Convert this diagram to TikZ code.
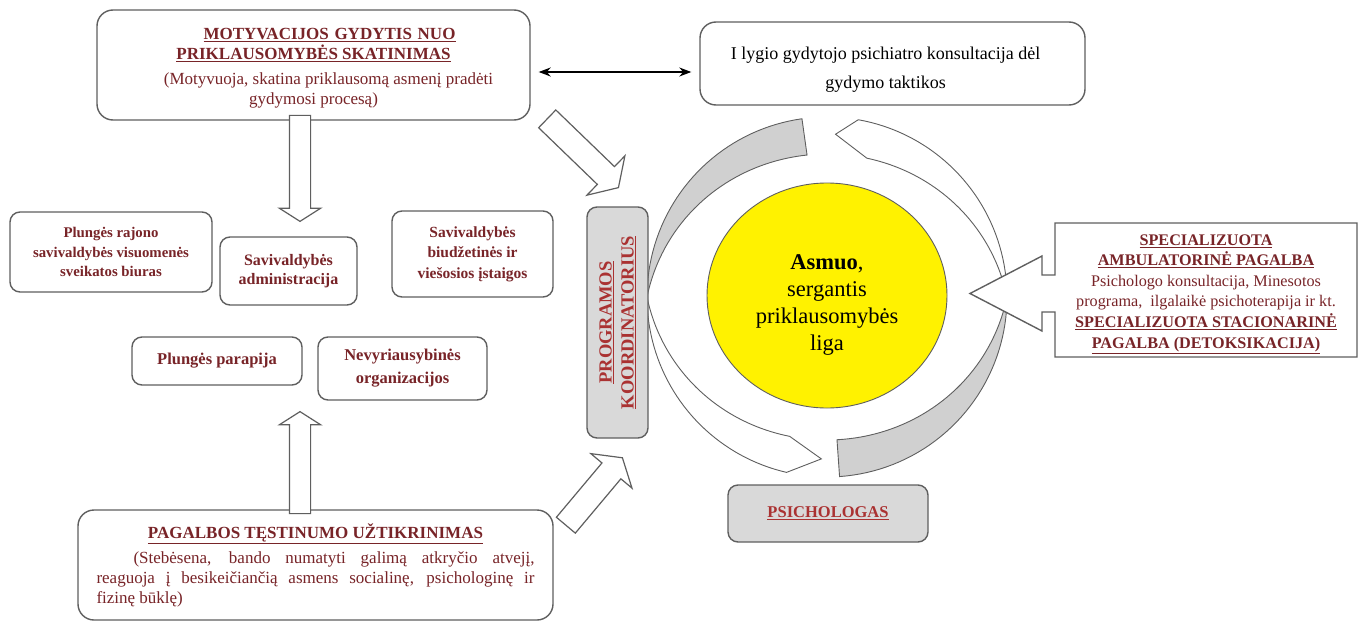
\documentclass[tikz,border=0pt]{standalone}
\usepackage{fontspec}
\setmainfont{Liberation Serif}
\usetikzlibrary{shapes.geometric,shapes.arrows,arrows.meta}

\definecolor{wine}{RGB}{120,36,40}
\definecolor{brick}{RGB}{170,50,50}
\definecolor{edge}{RGB}{95,95,95}
\definecolor{shade}{RGB}{208,208,208}
\definecolor{boxgray}{RGB}{217,217,217}

\newcommand{\fs}[2]{\fontsize{#1}{#2}\selectfont}

\tikzset{
  rbox/.style={draw=edge, line width=1.4pt, rounded corners=16pt, fill=white, align=center, text=wine, inner sep=0pt},
  sbox/.style={rbox, rounded corners=10pt},
  graybox/.style={sbox, fill=boxgray, text=brick},
  txt/.style={align=center, text=wine, inner sep=0pt},
  fatarrow/.style={single arrow, draw=edge, line width=1.2pt, fill=white, single arrow head extend=10pt,
    single arrow tip angle=115, inner xsep=0pt, inner ysep=10pt, minimum width=0pt},
  band/.style={draw=edge, line width=0.9pt},
}

\begin{document}
\begin{tikzpicture}[x=1pt,y=-1pt]
\useasboundingbox (0,0) rectangle (1372,623);

% ring round the person
\draw[band, fill=shade] plot[domain=262:180, samples=40] ({827+180*cos(\x)},{297+180*sin(\x)})
  -- plot[domain=180:262, samples=40] ({827+(180-37*abs(sin(\x)))*cos(\x)},{297+(180-37*abs(sin(\x)))*sin(\x)}) -- cycle;
\draw[band, fill=white] plot[domain=180:103, samples=40] ({827+180*cos(\x)},{297+180*sin(\x)})
  -- ({827+162*cos(92)},{297+162*sin(92)})
  -- plot[domain=105:180, samples=40] ({827+(180-37*abs(sin(\x)))*cos(\x)},{297+(180-37*abs(sin(\x)))*sin(\x)}) -- cycle;
\draw[band, fill=shade] plot[domain=86:0, samples=40] ({827+180*cos(\x)},{297+180*sin(\x)})
  -- plot[domain=0:86, samples=40] ({827+(180-37*abs(sin(\x)))*cos(\x)},{297+(180-37*abs(sin(\x)))*sin(\x)}) -- cycle;
\draw[band, fill=white] plot[domain=0:-80, samples=40] ({827+180*cos(\x)},{297+180*sin(\x)})
  -- ({827+163*cos(-87)},{297+163*sin(-87)})
  -- plot[domain=-74:0, samples=40] ({827+(180-37*abs(sin(\x)))*cos(\x)},{297+(180-37*abs(sin(\x)))*sin(\x)}) -- cycle;

\node[ellipse, draw=edge, line width=0.9pt, fill=yellow, minimum width=240pt, minimum height=225pt] (asmuo) at (827,295.5) {};
\node[txt, text=black, font=\fs{22.5}{27}] (asmuotxt) at ([yshift=-9pt]asmuo.center)
  {\textbf{Asmuo},\\ sergantis\\ priklausomybės\\ liga};

% top row
\node[rbox, minimum width=433pt, minimum height=110pt] (motiv) at (313.5,65) {};
\node[txt, font=\fs{17}{20.5}] (motivtxt) at ([yshift=-3pt]motiv.center)
  {\hspace*{32pt}\textbf{\underline{\makebox[252pt][s]{MOTYVACIJOS GYDYTIS NUO}}}\\ \textbf{\underline{PRIKLAUSOMYBĖS SKATINIMAS}}\\[4pt]
   \hspace*{30pt}(Motyvuoja, skatina priklausomą asmenį pradėti\\ gydymosi procesą)};
\node[rbox, minimum width=385pt, minimum height=83pt] (consult) at (892.5,63.5) {};
\node[txt, text=black, font=\fs{18}{29}] (consulttxt) at ([shift={(-7,6)}]consult.center)
  {I lygio gydytojo psichiatro konsultacija dėl\\ gydymo taktikos};
\draw[<->, >={Stealth[length=12pt,width=9pt]}, line width=1.4pt] ([shift={(8,7)}]motiv.east) -- ([shift={(-8,8.5)}]consult.west);

% institutions
\node[sbox, minimum width=202pt, minimum height=80pt, font=\bfseries\fs{14.8}{19.8}] (biuras) at (111,252)
  {Plungės rajono\\ savivaldybės visuomenės\\ sveikatos biuras};
\node[sbox, minimum width=137pt, minimum height=68pt, font=\bfseries\fs{16}{19.5}] (admin) at (288.5,271)
  {Savivaldybės\\ administracija};
\node[sbox, minimum width=161pt, minimum height=86pt, font=\bfseries\fs{15.5}{20.5}] (istaigos) at (472.5,254)
  {Savivaldybės\\ biudžetinės ir\\ viešosios įstaigos};
\node[sbox, minimum width=170pt, minimum height=48pt, font=\bfseries\fs{16.5}{20}] (parapija) at (217,361)
  {Plungės parapija};
\node[sbox, minimum width=169pt, minimum height=63pt, font=\bfseries\fs{16.5}{23}] (nvo) at (402.5,368.5)
  {Nevyriausybinės\\ organizacijos};

% bottom box
\node[rbox, minimum width=475pt, minimum height=110pt, text width=438pt, align=justify, font=\fs{17}{20}] (pagalba) at (315.5,565)
  {\makebox[\linewidth]{\textbf{\underline{PAGALBOS TĘSTINUMO UŽTIKRINIMAS}}}\\[5pt]
   \hspace*{37pt}(Stebėsena, bando numatyti galimą atkryčio atvejį,\linebreak
   reaguoja į besikeičiančią asmens socialinę, psichologinę ir\linebreak
   fizinę būklę)};

% coordinator and psychologist
\node[graybox, minimum width=231pt, minimum height=61pt, rotate=90, font=\bfseries\fs{18.5}{22}] (coord) at (617.5,322.5)
  {\underline{PROGRAMOS}\\ \underline{KOORDINATORIUS}};
\node[graybox, minimum width=200pt, minimum height=57pt, font=\bfseries\fs{16.5}{19}] (psich) at (828,513.5)
  {\underline{PSICHOLOGAS}};

% specialised help with its arrow
\draw[draw=edge, line width=1.4pt, fill=white] (1055,223) -- (1357,223) -- (1357,357) -- (1055,357) -- (1055,312)
  -- (1042,312) -- (1042,331) -- (970,293.5) -- (1042,256) -- (1042,275) -- (1055,275) -- cycle;
\node[txt, font=\fs{16.2}{20.6}] (spec) at (1206,294)
  {\textbf{\underline{SPECIALIZUOTA}}\\ \textbf{\underline{AMBULATORINĖ PAGALBA}}\\ Psichologo konsultacija, Minesotos\\
   programa,\ \ ilgalaikė psichoterapija ir kt.\\ \textbf{\underline{SPECIALIZUOTA STACIONARINĖ}}\\
   \textbf{\underline{PAGALBA (DETOKSIKACIJA)}}};

% block arrows
\node[fatarrow, minimum height=106pt, rotate=-90] (down) at (300,165) {};
\node[fatarrow, minimum height=102pt, rotate=90] (up) at (300,466) {};
\node[fatarrow, inner ysep=11.75pt, single arrow head extend=15pt, minimum height=99pt, rotate=-44] (intop) at (580,150.5) {};
\node[fatarrow, inner ysep=11.75pt, single arrow head extend=14.5pt, minimum height=88pt, rotate=50] (inbot) at (591.6,494.5) {};
\end{tikzpicture}
\end{document}
